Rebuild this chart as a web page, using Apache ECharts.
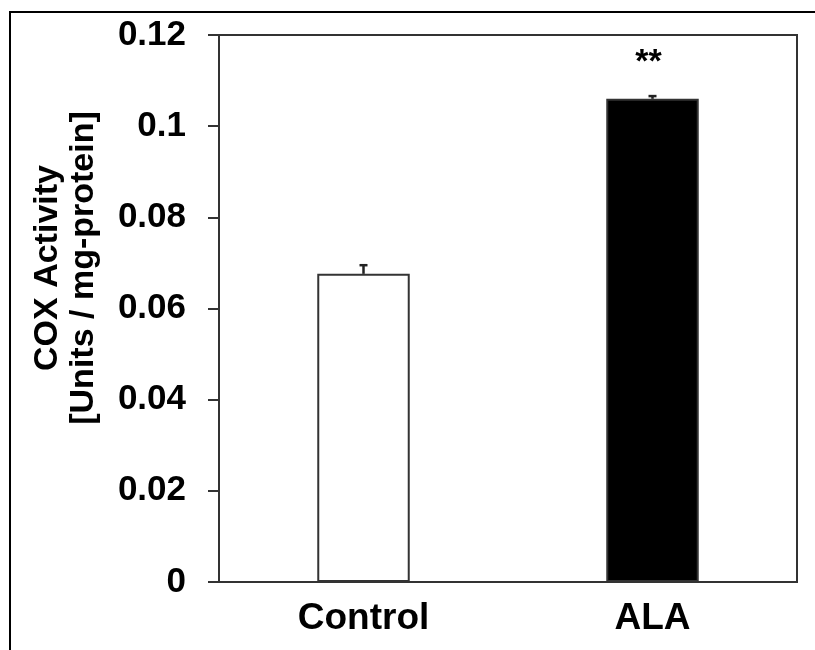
<!DOCTYPE html>
<html>
<head>
<meta charset="utf-8">
<script src="https://cdn.jsdelivr.net/npm/echarts@6/dist/echarts.min.js"></script>
<style>
html,body{margin:0;padding:0;background:#fff;}
#chart{width:815px;height:650px;}
</style>
</head>
<body>
<div id="chart"></div>
<script>
var categories = ['Control', 'ALA'];
var values = [0.0676, 0.1060];
var errors = [0.0019, 0.0006];
var significance = ['', '**'];
var barColors = ['#ffffff', '#000000'];
var yTicks = [0, 0.02, 0.04, 0.06, 0.08, 0.1, 0.12];

var FONT = '"Liberation Sans", Arial, Helvetica, sans-serif';
var chart = echarts.init(document.getElementById('chart'));

var option = {
  animation: false,
  backgroundColor: '#ffffff',
  grid: {
    left: 219, top: 35, right: 18, bottom: 68,
    show: true, borderColor: '#333333', borderWidth: 2, backgroundColor: 'transparent'
  },
  graphic: [{
    type: 'rect',
    shape: { x: 10, y: 12, width: 830, height: 680 },
    style: { fill: 'none', stroke: '#000000', lineWidth: 2 },
    silent: true
  }, {
    type: 'text',
    rotation: Math.PI / 2,
    x: 66, y: 268,
    style: {
      text: 'COX Activity\n[Units / mg-protein]',
      font: 'bold 34px ' + FONT,
      fill: '#000000',
      align: 'center',
      verticalAlign: 'middle',
      lineHeight: 36
    },
    silent: true
  }],
  xAxis: {
    type: 'category',
    data: categories,
    axisLine: { show: true, lineStyle: { color: '#333333', width: 2 } },
    axisTick: { show: false },
    axisLabel: {
      margin: 18,
      color: '#000000',
      fontFamily: FONT,
      fontWeight: 'bold',
      fontSize: 37
    }
  },
  yAxis: {
    type: 'value',
    min: 0, max: 0.12, interval: 0.02,
    splitLine: { show: false },
    axisLine: { show: true, lineStyle: { color: '#333333', width: 2 } },
    axisTick: { show: true, inside: false, length: 11, lineStyle: { color: '#333333', width: 2 } },
    axisLabel: {
      margin: 33,
      color: '#000000',
      fontFamily: FONT,
      fontWeight: 'bold',
      fontSize: 35,
      formatter: function (v) {
        var idx = yTicks.indexOf(Math.round(v * 100) / 100);
        return String(idx >= 0 ? yTicks[idx] : v);
      }
    }
  },
  series: [{
    type: 'bar',
    barWidth: '32%',
    data: values.map(function (v, i) {
      return {
        value: v,
        itemStyle: { color: barColors[i], borderColor: '#333333', borderWidth: 2 }
      };
    }),
    z: 2
  }, {
    type: 'custom',
    z: 3,
    data: values.map(function (v, i) { return [i, v, errors[i]]; }),
    renderItem: function (params, api) {
      var i = api.value(0);
      var top = api.coord([i, api.value(1) + api.value(2)]);
      var base = api.coord([i, api.value(1)]);
      var children = [{
        type: 'line',
        shape: { x1: base[0], y1: base[1], x2: top[0], y2: top[1] },
        style: { stroke: '#222222', lineWidth: 2.5 }
      }, {
        type: 'line',
        shape: { x1: top[0] - 4, y1: top[1], x2: top[0] + 4, y2: top[1] },
        style: { stroke: '#222222', lineWidth: 2.5 }
      }];
      var sig = significance[i];
      if (sig) {
        children.push({
          type: 'text',
          style: {
            text: sig,
            x: top[0] - 4, y: top[1] - 33,
            font: 'bold 34px ' + FONT,
            fill: '#000000',
            align: 'center',
            verticalAlign: 'middle'
          }
        });
      }
      return { type: 'group', children: children };
    }
  }]
};
chart.setOption(option);
</script>
</body>
</html>
